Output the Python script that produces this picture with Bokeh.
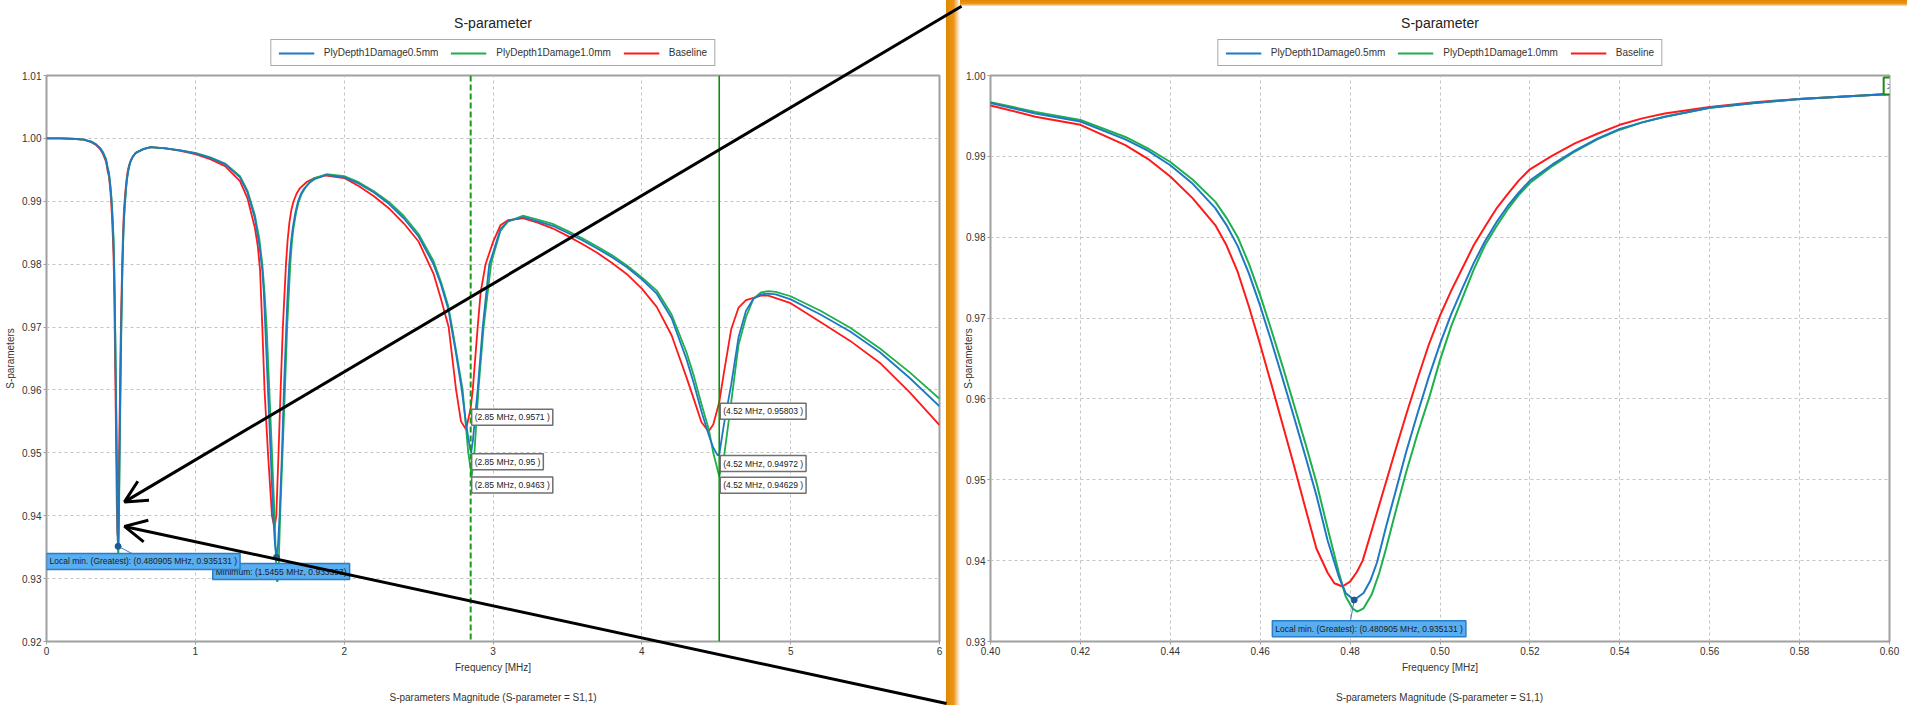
from bokeh.plotting import figure
from bokeh.models import (Span, Label, Arrow, OpenHead, Legend, LegendItem,
                          FixedTicker, PrintfTickFormatter, Div, Range1d)
from bokeh.layouts import row, column
from bokeh.embed import file_html
from bokeh.resources import INLINE

# ---------------- data ----------------
f_blue = [0.00, 0.10, 0.20, 0.25, 0.30, 0.33, 0.36, 0.38,
          0.40, 0.41, 0.42, 0.43, 0.435, 0.44, 0.445, 0.45, 0.4525, 0.455, 0.4575, 0.46,
          0.4625, 0.465, 0.4675, 0.47, 0.4725, 0.475, 0.4775, 0.479, 0.480905, 0.483,
          0.4845, 0.486, 0.488, 0.49, 0.4925, 0.495, 0.4975, 0.50, 0.5025, 0.505,
          0.5075, 0.51, 0.5125, 0.515, 0.5175, 0.52, 0.525, 0.53, 0.535, 0.54,
          0.545, 0.55, 0.56, 0.57, 0.58, 0.59, 0.60,
          0.65, 0.70, 0.80, 0.90, 1.00, 1.10, 1.20, 1.30, 1.35, 1.40, 1.43, 1.45, 1.46,
          1.470, 1.488, 1.506, 1.523, 1.535, 1.5455, 1.556, 1.566, 1.582, 1.595, 1.611,
          1.62, 1.631, 1.643, 1.655, 1.672, 1.689, 1.71, 1.734, 1.77, 1.80, 1.88,
          2.00, 2.10, 2.20, 2.30, 2.40, 2.50, 2.60, 2.65, 2.70, 2.72, 2.75, 2.79, 2.82, 2.84,
          2.853, 2.865, 2.875, 2.897, 2.931, 2.975, 3.00, 3.05, 3.10, 3.20, 3.30, 3.40, 3.50,
          3.60, 3.70, 3.80, 3.90, 4.00, 4.10, 4.20, 4.30, 4.35, 4.40, 4.45, 4.48, 4.51, 4.52,
          4.55, 4.60, 4.65, 4.70, 4.75, 4.80, 4.85, 4.90, 5.00, 5.20, 5.40, 5.60, 5.80, 6.00]
s_blue = [1.0000, 1.0000, 0.9999, 0.9998, 0.9995, 0.9991, 0.9984, 0.9977,
          0.9966, 0.9953, 0.9943, 0.9921, 0.9907, 0.9889, 0.9866, 0.9836, 0.9815, 0.9789,
          0.9755, 0.9715, 0.9671, 0.9625, 0.9578, 0.9530, 0.9481, 0.9425, 0.9380, 0.9360,
          0.935131, 0.9360, 0.9375, 0.9398, 0.9442, 0.9483, 0.9535, 0.9582, 0.9627, 0.9668,
          0.9705, 0.9737, 0.9768, 0.9795, 0.9818, 0.9838, 0.9855, 0.9870, 0.9890, 0.9907,
          0.9922, 0.9934, 0.9942, 0.9949, 0.9960, 0.9966, 0.9971, 0.9974, 0.9977,
          0.9983, 0.9986, 0.9984, 0.9981, 0.9976, 0.9969, 0.9959, 0.9938, 0.9914, 0.9873,
          0.9830, 0.9790, 0.9755, 0.9700, 0.9600, 0.9500, 0.9400, 0.9355, 0.933393, 0.9355,
          0.9400, 0.9500, 0.9600, 0.9700, 0.9752, 0.9800, 0.9835, 0.9858, 0.9882, 0.9899,
          0.9912, 0.9921, 0.9930, 0.9935, 0.9942,
          0.9938, 0.9928, 0.9914, 0.9896, 0.9873, 0.9844, 0.9800, 0.9768, 0.9728, 0.9700,
          0.9660, 0.9600, 0.9545, 0.9515, 0.9500, 0.9520, 0.9545, 0.9600, 0.9700, 0.9800,
          0.9818, 0.9856, 0.9868, 0.9875, 0.9868, 0.9861, 0.9850, 0.9838, 0.9825, 0.9811,
          0.9795, 0.9776, 0.9753, 0.9714, 0.9649, 0.9610, 0.9566, 0.9528, 0.9508, 0.9496,
          0.94972, 0.9543, 0.9608, 0.9684, 0.9726, 0.9745, 0.9752, 0.9753, 0.9752, 0.9744,
          0.9720, 0.9693, 0.9660, 0.9619, 0.9574]

f_green = [0.00, 0.10, 0.20, 0.25, 0.30, 0.33, 0.36, 0.38,
           0.40, 0.41, 0.42, 0.43, 0.435, 0.44, 0.445, 0.45, 0.4525, 0.455, 0.4575, 0.46,
           0.4625, 0.465, 0.4675, 0.47, 0.4725, 0.475, 0.4775, 0.479, 0.4805, 0.4816,
           0.483, 0.4848, 0.4865, 0.488, 0.49, 0.4925, 0.495, 0.4975, 0.50, 0.5025,
           0.505, 0.5075, 0.51, 0.5125, 0.515, 0.5175, 0.52, 0.525, 0.53, 0.535,
           0.54, 0.545, 0.55, 0.56, 0.57, 0.58, 0.59, 0.60,
           0.65, 0.70, 0.80, 0.90, 1.00, 1.10, 1.20, 1.30, 1.35, 1.40, 1.43, 1.45, 1.465,
           1.479, 1.497, 1.515, 1.532, 1.546, 1.550, 1.557, 1.570, 1.586, 1.602, 1.617,
           1.638, 1.649, 1.66, 1.677, 1.694, 1.715, 1.74, 1.77, 1.80, 1.88,
           2.00, 2.10, 2.20, 2.30, 2.40, 2.50, 2.60, 2.65, 2.70, 2.725, 2.75, 2.796, 2.834,
           2.857, 2.875, 2.902, 2.937, 2.987, 3.00, 3.05, 3.10, 3.20, 3.30, 3.40, 3.50, 3.60,
           3.70, 3.80, 3.90, 4.00, 4.10, 4.20, 4.30, 4.35, 4.40, 4.45, 4.48, 4.52, 4.55, 4.60,
           4.65, 4.70, 4.75, 4.80, 4.85, 4.90, 5.00, 5.20, 5.40, 5.60, 5.80, 6.00]
s_green = [1.0000, 1.0000, 0.9999, 0.9998, 0.9995, 0.9991, 0.9985, 0.9978,
           0.9967, 0.9955, 0.9945, 0.9924, 0.9910, 0.9893, 0.9871, 0.9844, 0.9824, 0.9800,
           0.9767, 0.9728, 0.9685, 0.9640, 0.9593, 0.9546, 0.9497, 0.9440, 0.9385, 0.9356,
           0.9341, 0.9337, 0.9341, 0.9358, 0.9385, 0.9415, 0.9458, 0.9510, 0.9557, 0.9600,
           0.9648, 0.9690, 0.9725, 0.9760, 0.9790, 0.9813, 0.9834, 0.9852, 0.9867, 0.9888,
           0.9906, 0.9921, 0.9933, 0.9942, 0.9949, 0.9960, 0.9966, 0.9971, 0.9974, 0.9977,
           0.9983, 0.9986, 0.9984, 0.9981, 0.9977, 0.9970, 0.9960, 0.9940, 0.9917, 0.9878,
           0.9840, 0.9800, 0.9755, 0.9700, 0.9600, 0.9500, 0.9400, 0.9300, 0.9295, 0.9300,
           0.9400, 0.9500, 0.9600, 0.9700, 0.9800, 0.9835, 0.9858, 0.9882, 0.9899, 0.9912,
           0.9922, 0.9931, 0.9937, 0.9943,
           0.9940, 0.9930, 0.9916, 0.9899, 0.9877, 0.9848, 0.9805, 0.9772, 0.9733, 0.9700,
           0.9665, 0.9600, 0.9500, 0.9463, 0.9500, 0.9600, 0.9700, 0.9800, 0.9812, 0.9853,
           0.9868, 0.9877, 0.9871, 0.9864, 0.9853, 0.9841, 0.9828, 0.9814, 0.9798, 0.9779,
           0.9758, 0.9720, 0.9660, 0.9622, 0.9578, 0.9537, 0.9500, 0.94629, 0.9490, 0.9580,
           0.9672, 0.9716, 0.9745, 0.9755, 0.9757, 0.9756, 0.9749, 0.9726, 0.9699, 0.9666,
           0.9628, 0.9586]

f_red = [0.00, 0.10, 0.20, 0.25, 0.30, 0.33, 0.36, 0.38,
         0.40, 0.41, 0.42, 0.43, 0.435, 0.44, 0.445, 0.45, 0.4525, 0.455, 0.4575, 0.46,
         0.4625, 0.465, 0.4675, 0.47, 0.4725, 0.475, 0.4765, 0.4783, 0.48, 0.4815,
         0.4828, 0.485, 0.4875, 0.49, 0.4925, 0.495, 0.4975, 0.50, 0.5025, 0.505,
         0.5075, 0.51, 0.5125, 0.515, 0.5175, 0.52, 0.525, 0.53, 0.535, 0.54,
         0.545, 0.55, 0.56, 0.57, 0.58, 0.59, 0.60,
         0.65, 0.70, 0.80, 0.90, 1.00, 1.10, 1.20, 1.30, 1.35, 1.40, 1.42, 1.435, 1.450,
         1.465, 1.488, 1.515, 1.532, 1.544, 1.559, 1.573, 1.588, 1.609, 1.62, 1.632, 1.645,
         1.66, 1.68, 1.70, 1.75, 1.80, 1.88,
         2.00, 2.10, 2.20, 2.30, 2.40, 2.50, 2.60, 2.65, 2.702, 2.752, 2.785, 2.819, 2.85,
         2.864, 2.897, 2.917, 2.95, 3.00, 3.05, 3.10, 3.20, 3.30, 3.40, 3.50, 3.60, 3.70,
         3.80, 3.90, 4.00, 4.10, 4.20, 4.30, 4.35, 4.40, 4.448, 4.48, 4.52, 4.55, 4.60,
         4.65, 4.70, 4.80, 4.85, 5.00, 5.20, 5.40, 5.60, 5.80, 6.00]
s_red = [1.0000, 1.0000, 0.9999, 0.9998, 0.9994, 0.9990, 0.9983, 0.9975,
         0.9963, 0.9949, 0.9939, 0.9914, 0.9897, 0.9875, 0.9848, 0.9815, 0.9790, 0.9757,
         0.9714, 0.9667, 0.9618, 0.9568, 0.9518, 0.9466, 0.9415, 0.9385, 0.9372, 0.9368,
         0.9374, 0.9386, 0.9400, 0.9441, 0.9488, 0.9535, 0.9581, 0.9625, 0.9667, 0.9703,
         0.9734, 0.9762, 0.9790, 0.9813, 0.9835, 0.9853, 0.9870, 0.9884, 0.9901, 0.9916,
         0.9928, 0.9939, 0.9947, 0.9953, 0.9961, 0.9967, 0.9971, 0.9974, 0.9977,
         0.9983, 0.9986, 0.9984, 0.9980, 0.9975, 0.9967, 0.9956, 0.9932, 0.9905, 0.9858,
         0.9828, 0.9790, 0.9700, 0.9600, 0.9500, 0.9400, 0.9381, 0.9400, 0.9500, 0.9600,
         0.9700, 0.9800, 0.9838, 0.9866, 0.9886, 0.9900, 0.9912, 0.9920, 0.9931, 0.9937,
         0.9941,
         0.9937, 0.9924, 0.9908, 0.9889, 0.9865, 0.9836, 0.9785, 0.9745, 0.9700, 0.9600,
         0.9550, 0.9537, 0.9571, 0.9600, 0.9700, 0.9755, 0.9800, 0.9835, 0.9862, 0.9870,
         0.9873, 0.9866, 0.9857, 0.9845, 0.9832, 0.9818, 0.9802, 0.9784, 0.9761, 0.9732,
         0.9687, 0.9620, 0.9585, 0.9549, 0.9534, 0.9545, 0.95803, 0.9625, 0.9696, 0.9731,
         0.9743, 0.9750, 0.9750, 0.9738, 0.9708, 0.9678, 0.9643, 0.9596, 0.9544]

series_names = ["PlyDepth1Damage0.5mm", "PlyDepth1Damage1.0mm", "Baseline"]
chart_title = "S-parameter"
caption = "S-parameters Magnitude (S-parameter = S1,1)"

xticks_main = [0, 1, 2, 3, 4, 5, 6]
yticks_main = [0.92, 0.93, 0.94, 0.95, 0.96, 0.97, 0.98, 0.99, 1.00, 1.01]
xticks_zoom = [0.40, 0.42, 0.44, 0.46, 0.48, 0.50, 0.52, 0.54, 0.56, 0.58, 0.60]
yticks_zoom = [0.93, 0.94, 0.95, 0.96, 0.97, 0.98, 0.99, 1.00]

marker_lines = [2.85, 4.52]
probe_x = [2.85, 2.85, 2.85, 4.52, 4.52, 4.52]
probe_y = [0.9571, 0.95, 0.9463, 0.95803, 0.94972, 0.94629]

localmin_x, localmin_y = 0.480905, 0.935131
minimum_x, minimum_y = 1.5455, 0.933393

# arrows (in the main chart's data units)
arrow_heads = [(0.524, 0.9422), (0.524, 0.9383)]
arrow_tails = [(6.148, 1.0210), (6.047, 0.91014)]

BLUE, GREEN, RED = "#1f78c4", "#1db04c", "#ff1a1a"
COLORS = [BLUE, GREEN, RED]
FONT = "Liberation Sans"
TXT = "#333333"

# geometry (page pixels)
W_L, W_BAR, W_R = 946, 14, 947
H_TOTAL = 705
H_TOPBAR = 6
H_HEAD_L = 71
H_HEAD_R = H_HEAD_L - H_TOPBAR
BL_L, BR_L, BL_R, BR_R = 46, 7, 29, 18
BT, BB = 4, 64
H_CHART = H_TOTAL - H_HEAD_L
TITLE_Y = 22
CAPTION_BELOW = 56   # caption centre below the frame bottom, px


def style(p, xt, yt, xfmt, yfmt, ylab_standoff):
    p.outline_line_color = "#a0a0a0"
    p.outline_line_width = 2
    p.background_fill_color = "white"
    p.border_fill_color = "white"
    p.xaxis.ticker = FixedTicker(ticks=xt)
    p.yaxis.ticker = FixedTicker(ticks=yt)
    p.xaxis.formatter = PrintfTickFormatter(format=xfmt)
    p.yaxis.formatter = PrintfTickFormatter(format=yfmt)
    for ax in (p.xaxis[0], p.yaxis[0]):
        ax.axis_line_color = None
        ax.major_tick_line_color = "#a0a0a0"
        ax.major_tick_out = 3
        ax.major_tick_in = 0
        ax.minor_tick_line_color = None
        ax.major_label_text_font = FONT
        ax.major_label_text_font_size = "10px"
        ax.major_label_text_color = TXT
        ax.major_label_standoff = 2
        ax.axis_label_text_font = FONT
        ax.axis_label_text_font_size = "10px"
        ax.axis_label_text_font_style = "normal"
        ax.axis_label_text_color = TXT
    p.xaxis.axis_label = "Frequency [MHz]"
    p.xaxis.axis_label_standoff = 4
    p.yaxis.axis_label = "S-parameters"
    p.yaxis.axis_label_standoff = ylab_standoff
    for g in (p.xgrid[0], p.ygrid[0]):
        g.grid_line_color = "#c4c4c4"
        g.grid_line_dash = "3 3"
        g.grid_line_width = 1


def add_series(p, lw):
    p.line(f_red, s_red, line_color=RED, line_width=lw)
    p.line(f_green, s_green, line_color=GREEN, line_width=lw)
    p.line(f_blue, s_blue, line_color=BLUE, line_width=lw)


def header(width, height, top, bl, br):
    h = figure(width=width, height=height, x_range=Range1d(0, 1), y_range=Range1d(0, height),
               output_backend="svg", toolbar_location=None, x_axis_type=None, y_axis_type=None,
               min_border_left=bl, min_border_right=br, min_border_top=0, min_border_bottom=0)
    h.outline_line_color = None
    h.xgrid.visible = False
    h.ygrid.visible = False
    nan = float("nan")
    rs = [h.line([nan], [nan], line_color=c, line_width=2) for c in COLORS]
    legend = Legend(items=[LegendItem(label=n, renderers=[r]) for n, r in zip(series_names, rs)],
                    orientation="horizontal", location="bottom_center",
                    label_text_font=FONT, label_text_font_size="10px", label_text_color=TXT,
                    glyph_width=36, glyph_height=10, label_standoff=10, spacing=12,
                    padding=7, margin=5, border_line_color="#555555", border_line_width=1,
                    background_fill_color="white")
    h.add_layout(legend, "center")
    h.add_layout(Label(x=0.5, y=height - (TITLE_Y - top), text=chart_title,
                       text_align="center", text_baseline="middle",
                       text_font=FONT, text_font_size="14px", text_color="#222222"))
    return h


def box_label(p, x, y, text, fill, border, xo=0, yo=0, size="8.5px"):
    p.add_layout(Label(x=x, y=y, text=text, x_offset=xo, y_offset=yo,
                       text_align="left", text_baseline="top",
                       text_font=FONT, text_font_size=size, text_color="#202020",
                       background_fill_color=fill, border_line_color=border,
                       border_line_width=1.5, padding=3))


# ---------------- main chart ----------------
main = figure(width=W_L, height=H_CHART, x_range=Range1d(0, 6), y_range=Range1d(0.92, 1.01),
              output_backend="svg", toolbar_location=None,
              min_border_left=BL_L, min_border_right=BR_L, min_border_top=BT, min_border_bottom=BB)
style(main, xticks_main, yticks_main, "%d", "%.2f", 3)
add_series(main, 1.8)

main.add_layout(Span(location=marker_lines[0], dimension="height", line_color="#189a18",
                     line_width=2, line_dash="6 3"))
main.add_layout(Span(location=marker_lines[1], dimension="height", line_color="#0a900a",
                     line_width=1.6))

for x, y in zip(probe_x, probe_y):
    box_label(main, x, y, f"({x} MHz, {y} )", "white", "#707070", xo=1, yo=-1)

main.segment(x0=[localmin_x], y0=[localmin_y], x1=[0.59], y1=[0.9338],
             line_color="#3a7fb8", line_width=1)
main.scatter([localmin_x, minimum_x], [localmin_y, minimum_y], size=6, color="#1d5a94")
box_label(main, 1.117, 0.9324, f"Minimum: ({minimum_x} MHz, {minimum_y})",
          "#58aef0", "#2a7ec8")
box_label(main, 0.0, 0.9340, f"Local min. (Greatest): ({localmin_x} MHz, {localmin_y} )",
          "#58aef0", "#2a7ec8")

# ---------------- zoomed chart ----------------
zoom = figure(width=W_R, height=H_CHART,
              x_range=Range1d(0.40, 0.60), y_range=Range1d(0.93, 1.00),
              output_backend="svg", toolbar_location=None,
              min_border_left=BL_R, min_border_right=BR_R, min_border_top=BT, min_border_bottom=BB)
style(zoom, xticks_zoom, yticks_zoom, "%.2f", "%.2f", -11)
add_series(zoom, 2.0)
zoom.segment(x0=[localmin_x], y0=[localmin_y], x1=[0.4801], y1=[0.9326],
             line_color="#3a7fb8", line_width=1)
zoom.scatter([localmin_x], [localmin_y], size=6, color="#1d5a94")
box_label(zoom, 0.4627, 0.93257, f"Local min. (Greatest): ({localmin_x} MHz, {localmin_y} )",
          "#58aef0", "#2a7ec8")
zoom.add_layout(Label(x=0.60, y=1.00, text=">", x_offset=6, y_offset=-2,
                      text_align="right", text_baseline="top", text_font=FONT,
                      text_font_size="10px", text_color="#505050",
                      background_fill_color="white", border_line_color="#1a8a1a",
                      border_line_width=2, padding=3))

head_l = header(W_L, H_HEAD_L, 0, BL_L, BR_L)
head_r = header(W_R, H_HEAD_R, H_TOPBAR, BL_R, BR_R)

side_bar = Div(text="", width=W_BAR, height=H_TOTAL, margin=0,
               styles={"background": "linear-gradient(to right, #e08600 0%, #ec9618 55%, #f8d6a6 82%, #ffffff 100%)"})
top_bar = Div(text="", width=W_R, height=H_TOPBAR, margin=0,
              styles={"background": "linear-gradient(to bottom, #e08600 0%, #ec9618 60%, #fbe2c2 100%)"})

# ---------------- transparent overlay: arrows and captions ----------------
W_ALL = W_L + W_BAR + W_R
ppx = (W_L - BL_L - BR_L) / 6.0
ppy = (H_CHART - BT - BB) / 0.09
ov_x0 = 0 - BL_L / ppx
ov_x1 = ov_x0 + W_ALL / ppx
ov_y1 = 1.01 + (H_HEAD_L + BT) / ppy
ov_y0 = ov_y1 - H_TOTAL / ppy
overlay = figure(width=W_ALL, height=H_TOTAL, x_range=Range1d(ov_x0, ov_x1),
                 y_range=Range1d(ov_y0, ov_y1), output_backend="svg", toolbar_location=None,
                 x_axis_type=None, y_axis_type=None, min_border=0,
                 styles={"position": "absolute", "left": "0px", "top": "0px",
                         "z-index": "10", "pointer-events": "none"})
overlay.outline_line_color = None
overlay.background_fill_alpha = 0
overlay.border_fill_alpha = 0
overlay.xgrid.visible = False
overlay.ygrid.visible = False

cap_y = 0.92 - CAPTION_BELOW / ppy
cap_x_left = 3.0
zoom_centre_px = W_L + W_BAR + BL_R + (W_R - BL_R - BR_R) / 2
cap_x_right = ov_x0 + zoom_centre_px / ppx
for cx in (cap_x_left, cap_x_right):
    overlay.add_layout(Label(x=cx, y=cap_y, text=caption, text_align="center",
                             text_baseline="middle", text_font=FONT,
                             text_font_size="10px", text_color=TXT))

for (xh, yh), (xt, yt) in zip(arrow_heads, arrow_tails):
    overlay.add_layout(Arrow(end=OpenHead(size=22, line_width=3, line_color="black"),
                             x_start=xt, y_start=yt, x_end=xh, y_end=yh,
                             line_width=3, line_color="black"))

charts = row(column(head_l, main, spacing=0), side_bar,
             column(top_bar, head_r, zoom, spacing=0), spacing=0)
layout = column(charts, overlay, spacing=0, styles={"position": "relative"})

open("out.html", "w").write(file_html(layout, INLINE))
